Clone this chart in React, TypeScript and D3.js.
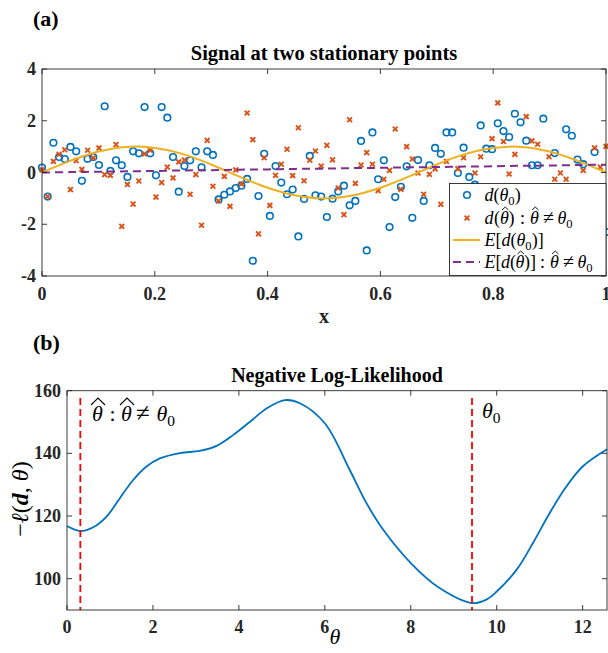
import React from "react";
import * as d3 from "d3";

const W = 608;
const H = 653;

// Panel (a): observed samples at x = i/99, i = 0..99
const dTheta0 = [
  0.19, -0.93, 1.15, 0.6, 0.52, 0.99, 0.82, -0.32, 0.53, 0.6,
  0.29, 2.56, 0.06, 0.47, 0.28, -0.17, 0.82, 0.74, 2.53, 0.74,
  -0.11, 2.53, 2.12, 0.6, -0.74, 0.25, 0.47, 0.82, 0.2, 0.82,
  0.68, -1.04, -0.86, -0.73, -0.6, -0.51, -0.25, -3.41, -0.91, 0.72,
  -1.68, 0.25, -0.39, -0.84, -0.66, -2.47, -1.02, 0.64, -0.88, -0.93,
  -1.72, -1.01, -0.73, -0.51, -1.27, -1.1, 1.22, -3.01, 1.55, -0.26,
  0.47, -2.11, -0.95, -0.55, 0.24, -1.75, 0.48, -1.1, 0.28, 0.95,
  0.72, 1.55, 1.55, -0.02, 0.96, -0.17, -0.47, 1.82, 0.92, 0.9,
  1.9, 1.6, 1.37, 2.27, 1.94, 1.23, 0.28, 0.28, 2.08, -1.0,
  0.75, -0.9, 1.67, 1.42, 0.5, 0.32, -1.3, 0.79, -0.8, -2.3,
];
const dThetaHat = [
  0.1, -0.93, 0.43, 0.7, 0.88, -0.66, 0.46, 0.12, 0.86, 0.57,
  0.95, -0.08, -0.11, 1.08, -2.08, -0.46, -1.22, -0.33, 0.72, 0.86,
  -0.95, -0.39, 0.21, -0.21, 0.41, 0.48, -0.84, -0.08, -2.04, 1.24,
  -0.53, -1.1, -0.15, -1.31, 0.1, -0.44, 2.3, 1.27, -2.37, 0.57,
  -1.27, -0.11, 0.32, 0.9, -0.12, 1.73, -0.32, 0.48, 0.83, 0.25,
  1.05, 0.49, -0.6, -1.63, 2.04, -0.42, 0.29, 0.77, 0.32, -0.7,
  -0.26, 0.08, 1.68, -0.65, 1.0, 0.52, -0.02, -0.84, -0.07, 0.14,
  -1.23, 0.43, -1.0, 0.15, 0.57, -0.8, -0.02, 0.61, -1.1, 1.31,
  2.69, 1.2, -0.06, 0.7, -0.7, 2.16, 1.22, 1.09, -0.9, 0.61,
  -0.26, -0.02, -0.26, -1.2, -0.6, 0.08, -1.0, 0.95, 0.21, 1.01,
];
const xSamples = [0, 0.05, 0.1, 0.15, 0.2, 0.25, 0.3, 0.35, 0.4, 0.45, 0.5, 0.55, 0.6, 0.65, 0.7, 0.75, 0.8, 0.85, 0.9, 0.95, 1];
const eTheta0 = [0, 0.45, 0.81, 0.99, 0.95, 0.71, 0.31, -0.16, -0.59, -0.89, -1, -0.89, -0.59, -0.16, 0.31, 0.71, 0.95, 0.99, 0.81, 0.45, 0];
const eThetaHat = [0, 0.015, 0.03, 0.045, 0.06, 0.08, 0.09, 0.11, 0.12, 0.14, 0.15, 0.17, 0.18, 0.2, 0.21, 0.23, 0.24, 0.26, 0.27, 0.29, 0.3];
const xTicksA = [0, 0.2, 0.4, 0.6, 0.8, 1];
const yTicksA = [-4, -2, 0, 2, 4];

// Panel (b): negative log-likelihood
const thetaGrid = [0, 0.31, 0.61, 0.92, 1.23, 1.54, 1.85, 2.16, 2.63, 3.09, 3.48, 3.87, 4.26, 4.65, 5.07, 5.42, 6.0, 6.58, 6.97, 7.36, 8.0, 8.67, 9.43, 9.76, 10.0, 10.46, 10.84, 11.23, 11.62, 12.0, 12.566];
const nll = [116.8, 115.2, 116.4, 119.8, 125.7, 131.5, 135.8, 138.4, 140.1, 140.8, 142.4, 145.9, 150.1, 154.4, 157, 156, 149.6, 134.7, 124.1, 115.6, 105, 97, 92.2, 93.3, 95.9, 102.8, 111.3, 120.9, 129.4, 135.8, 141.3];
const xTicksB = [0, 2, 4, 6, 8, 10, 12];
const yTicksB = [100, 120, 140, 160];
const theta0 = 9.425;
const thetaHat = 0.31;

const BLUE = "#0072BD";
const ORANGE = "#D95319";
const YELLOW = "#EDB120";
const PURPLE = "#7E2F8E";
const AX = "#262626";
const SERIF = "'Liberation Serif', 'Times New Roman', serif";

function Axes({ x, y, xt, yt, xfmt, yfmt, xoff }: any) {
  const [x0, x1] = x.range();
  const [y0, y1] = y.range(); // y0 bottom, y1 top
  const tl = 5;
  return (
    <g>
      <rect x={x0} y={y1} width={x1 - x0} height={y0 - y1} fill="none" stroke={AX} strokeWidth={0.9} />
      {xt.map((t: number) => (
        <g key={"x" + t}>
          <line x1={x(t)} x2={x(t)} y1={y0} y2={y0 - tl} stroke={AX} strokeWidth={0.9} />
          <line x1={x(t)} x2={x(t)} y1={y1} y2={y1 + tl} stroke={AX} strokeWidth={0.9} />
          <text x={x(t)} y={y0 + xoff} textAnchor="middle" fontFamily={SERIF} fontWeight="bold" fontSize={18} fill={AX}>
            {xfmt(t)}
          </text>
        </g>
      ))}
      {yt.map((t: number) => (
        <g key={"y" + t}>
          <line x1={x0} x2={x0 + tl} y1={y(t)} y2={y(t)} stroke={AX} strokeWidth={0.9} />
          <line x1={x1} x2={x1 - tl} y1={y(t)} y2={y(t)} stroke={AX} strokeWidth={0.9} />
          <text x={x0 - 6} y={y(t) + 6} textAnchor="end" fontFamily={SERIF} fontWeight="bold" fontSize={18} fill={AX}>
            {yfmt(t)}
          </text>
        </g>
      ))}
    </g>
  );
}

function Cross({ cx, cy, s = 2.4 }: any) {
  return (
    <path
      d={`M${cx - s},${cy - s}L${cx + s},${cy + s}M${cx - s},${cy + s}L${cx + s},${cy - s}`}
      stroke={ORANGE}
      strokeWidth={1.9}
      fill="none"
    />
  );
}

const Sub = ({ children, shift }: any) => (
  <tspan baselineShift={-shift} fontSize="70%" fontStyle="normal">{children}</tspan>
);

// small hat (legend) and wide hat (panel b) decorations
const hatPath = (x0: number, w: number, base: number, h: number) =>
  `M${x0},${base}L${x0 + w / 2},${base - h}L${x0 + w},${base}`;

export default function App() {
  const xa = d3.scaleLinear().domain([0, 1]).range([42, 606]);
  const ya = d3.scaleLinear().domain([-4, 4]).range([276, 69]);
  const xb = d3.scaleLinear().domain([0, 4 * Math.PI]).range([67, 607]);
  const yb = d3.scaleLinear().domain([90, 160]).range([610, 390.7]);

  const lineA = d3
    .line<number>()
    .x((_, i) => xa(xSamples[i]))
    .y((d) => ya(d))
    .curve(d3.curveCatmullRom);
  const lineB = d3
    .line<number>()
    .x((_, i) => xb(thetaGrid[i]))
    .y((d) => yb(d))
    .curve(d3.curveCatmullRom);

  const N = dTheta0.length;
  const xi = (i: number) => xa(i / (N - 1));

  // legend geometry
  const lgX = 449.5, lgY = 183.5, lgW = 156.5, lgH = 92;
  const rows = [195, 218, 240, 262];
  const tx = 484.5;
  const b2 = rows[1] + 5.5;
  const b4 = rows[3] + 5.5;

  return (
    <svg
      width={W}
      height={H}
      viewBox={`0 0 ${W} ${H}`}
      style={{ position: "absolute", left: 0, top: 0, background: "#fff" }}
    >
      <rect width={W} height={H} fill="#fff" />
      {/* Panel (a) */}
      <text x={33} y={26} fontFamily={SERIF} fontWeight="bold" fontSize={22} fill="#000">(a)</text>
      <text x={324} y={60} textAnchor="middle" fontFamily={SERIF} fontWeight="bold" fontSize={20.5} fill="#000">
        Signal at two stationary points
      </text>
      <g>
        {dTheta0.map((v, i) => (
          <circle key={"c" + i} cx={xi(i)} cy={ya(v)} r={3.3} fill="none" stroke={BLUE} strokeWidth={1.6} />
        ))}
        {dThetaHat.map((v, i) => (
          <Cross key={"x" + i} cx={xi(i)} cy={ya(v)} />
        ))}
        <path d={lineA(eTheta0) || ""} fill="none" stroke={YELLOW} strokeWidth={2} />
        <path d={lineA(eThetaHat) || ""} fill="none" stroke={PURPLE} strokeWidth={2} strokeDasharray="8,5" />
      </g>
      <Axes x={xa} y={ya} xt={xTicksA} yt={yTicksA} xfmt={(t: number) => String(t)} yfmt={(t: number) => String(t)} xoff={24} />
      <text x={324} y={323} textAnchor="middle" fontFamily={SERIF} fontWeight="bold" fontSize={20} fill={AX}>x</text>

      {/* Legend */}
      <g fontFamily={SERIF} fontSize={18} fill="#000">
        <rect x={lgX} y={lgY} width={lgW} height={lgH} fill="#fff" stroke={AX} strokeWidth={0.9} />
        <circle cx={467} cy={rows[0]} r={3.3} fill="none" stroke={BLUE} strokeWidth={1.6} />
        <text x={tx} y={rows[0] + 5.5}>
          <tspan fontStyle="italic">d</tspan>(<tspan fontStyle="italic">θ</tspan><Sub shift={3.5}>0</Sub>)
        </text>
        <Cross cx={467} cy={rows[1]} />
        <text y={b2}>
          <tspan x={tx} fontStyle="italic">d</tspan>
          <tspan x={494}>(</tspan>
          <tspan x={500} fontStyle="italic">θ</tspan>
          <tspan x={508.5}>)</tspan>
          <tspan x={520}>:</tspan>
          <tspan x={530} fontStyle="italic">θ</tspan>
          <tspan x={543} fontSize={20}>≠</tspan>
          <tspan x={557.5} fontStyle="italic">θ</tspan>
          <Sub shift={3.5}>0</Sub>
        </text>
        <path d={hatPath(502, 6.5, b2 - 13.5, 3)} fill="none" stroke="#000" strokeWidth={0.9} />
        <path d={hatPath(532, 6.5, b2 - 13.5, 3)} fill="none" stroke="#000" strokeWidth={0.9} />
        <line x1={453} x2={480} y1={rows[2]} y2={rows[2]} stroke={YELLOW} strokeWidth={2} />
        <text x={tx} y={rows[2] + 5.5}>
          <tspan fontStyle="italic">E</tspan>[<tspan fontStyle="italic">d</tspan>(<tspan fontStyle="italic">θ</tspan><Sub shift={3.5}>0</Sub>)]
        </text>
        <line x1={453} x2={480} y1={rows[3]} y2={rows[3]} stroke={PURPLE} strokeWidth={2} strokeDasharray="8,5" />
        <text y={b4}>
          <tspan x={tx} fontStyle="italic">E</tspan>
          <tspan x={495.5}>[</tspan>
          <tspan x={501} fontStyle="italic">d</tspan>
          <tspan x={510}>(</tspan>
          <tspan x={515.5} fontStyle="italic">θ</tspan>
          <tspan x={524}>)]</tspan>
          <tspan x={540}>:</tspan>
          <tspan x={550} fontStyle="italic">θ</tspan>
          <tspan x={563} fontSize={20}>≠</tspan>
          <tspan x={577.5} fontStyle="italic">θ</tspan>
          <Sub shift={3.5}>0</Sub>
        </text>
        <path d={hatPath(517.5, 6.5, b4 - 13.5, 3)} fill="none" stroke="#000" strokeWidth={0.9} />
        <path d={hatPath(552, 6.5, b4 - 13.5, 3)} fill="none" stroke="#000" strokeWidth={0.9} />
      </g>

      {/* Panel (b) */}
      <text x={33} y={350} fontFamily={SERIF} fontWeight="bold" fontSize={22} fill="#000">(b)</text>
      <text x={337} y={382} textAnchor="middle" fontFamily={SERIF} fontWeight="bold" fontSize={20} fill="#000">
        Negative Log-Likelihood
      </text>
      <path d={lineB(nll) || ""} fill="none" stroke={BLUE} strokeWidth={1.8} />
      <line x1={xb(thetaHat)} x2={xb(thetaHat)} y1={398} y2={610} stroke="#ff0000" strokeWidth={1.8} strokeDasharray="7,4" />
      <line x1={xb(theta0)} x2={xb(theta0)} y1={398} y2={610} stroke="#ff0000" strokeWidth={1.8} strokeDasharray="7,4" />
      <Axes x={xb} y={yb} xt={xTicksB} yt={yTicksB} xfmt={(t: number) => String(t)} yfmt={(t: number) => String(t)} xoff={22.5} />
      <text y={421} fontFamily={SERIF} fontSize={22} fill="#000">
        <tspan x={92} fontStyle="italic">θ</tspan>
        <tspan x={109.5}>:</tspan>
        <tspan x={121} fontStyle="italic">θ</tspan>
        <tspan x={136} fontSize={25}>≠</tspan>
        <tspan x={156.5} fontStyle="italic">θ</tspan>
        <Sub shift={4.5}>0</Sub>
      </text>
      <path d={hatPath(91, 14, 405, 7)} fill="none" stroke="#000" strokeWidth={1.1} />
      <path d={hatPath(120, 14, 405, 7)} fill="none" stroke="#000" strokeWidth={1.1} />
      <text x={482} y={418} fontFamily={SERIF} fontSize={22} fill="#000">
        <tspan fontStyle="italic">θ</tspan><Sub shift={4.5}>0</Sub>
      </text>
      <text x={335} y={644} textAnchor="middle" fontFamily={SERIF} fontStyle="italic" fontSize={22} fill="#000">θ</text>
      <text
        transform={`translate(28,499) rotate(-90)`}
        textAnchor="middle"
        fontFamily={SERIF}
        fontSize={24}
        fill="#000"
      >
        −<tspan fontStyle="italic">ℓ</tspan>(<tspan fontStyle="italic" fontWeight="bold">d</tspan>, <tspan fontStyle="italic">θ</tspan>)
      </text>
    </svg>
  );
}
